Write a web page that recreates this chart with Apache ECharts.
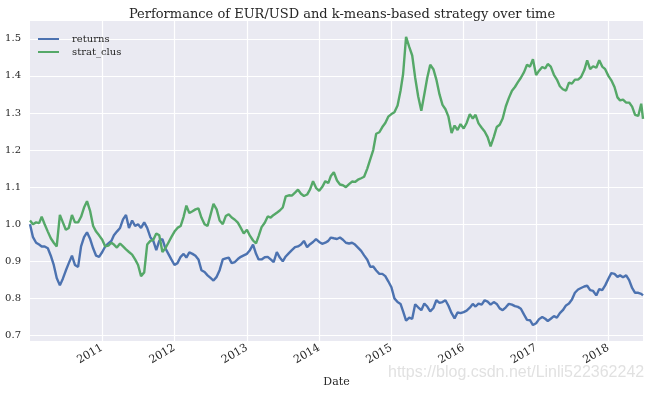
<!DOCTYPE html>
<html>
<head>
<meta charset="utf-8">
<script src="https://cdn.jsdelivr.net/npm/echarts@6/dist/echarts.min.js"></script>
<style>
html,body{margin:0;padding:0;background:#ffffff;}
#chart{width:649px;height:393px;}
</style>
</head>
<body>
<div id="chart"></div>
<script>
// Semi-monthly sample dates (1st and 16th of each month), Jan 2010 - Jun 2018
const dates = [];
for (let k = 0; k < 205; k++) {
  const y = 2010 + Math.floor(k / 24);
  const m = Math.floor((k % 24) / 2);
  const d = (k % 2) ? 16 : 1;
  dates.push(Date.UTC(y, m, d));
}
dates[204] = Date.UTC(2018, 5, 25);

// returns (EUR/USD normalized)
const returns = [
  1.0, 0.965, 0.95, 0.945, 0.94, 0.94, 0.935, 0.915, 0.89, 0.855,
  0.835, 0.853, 0.875, 0.895, 0.915, 0.89, 0.885, 0.94, 0.965, 0.978,
  0.96, 0.935, 0.915, 0.912, 0.925, 0.94, 0.948, 0.955, 0.97, 0.98,
  0.99, 1.013, 1.025, 0.99, 1.01, 0.995, 1.0, 0.99, 1.005, 0.99,
  0.965, 0.955, 0.93, 0.955, 0.96, 0.935, 0.92, 0.905, 0.89, 0.895,
  0.912, 0.92, 0.91, 0.924, 0.92, 0.915, 0.905, 0.876, 0.871, 0.862,
  0.855, 0.848, 0.858, 0.876, 0.905, 0.908, 0.91, 0.895, 0.898, 0.906,
  0.912, 0.916, 0.92, 0.93, 0.945, 0.92, 0.905, 0.905, 0.911, 0.912,
  0.905, 0.898, 0.925, 0.91, 0.9, 0.913, 0.922, 0.93, 0.938, 0.94,
  0.945, 0.955, 0.938, 0.946, 0.952, 0.96, 0.952, 0.947, 0.95, 0.955,
  0.964, 0.962, 0.96, 0.964, 0.958, 0.95, 0.948, 0.95, 0.945, 0.937,
  0.928, 0.916, 0.904, 0.885, 0.886, 0.875, 0.866, 0.866, 0.86, 0.846,
  0.83, 0.8, 0.79, 0.785, 0.765, 0.74, 0.748, 0.745, 0.784, 0.776,
  0.768, 0.786, 0.778, 0.765, 0.774, 0.795, 0.788, 0.79, 0.795, 0.78,
  0.76, 0.746, 0.762, 0.76, 0.763, 0.767, 0.775, 0.785, 0.778, 0.786,
  0.783, 0.795, 0.791, 0.783, 0.79, 0.785, 0.773, 0.768, 0.776, 0.785,
  0.783, 0.779, 0.777, 0.772, 0.756, 0.742, 0.741, 0.728, 0.733, 0.744,
  0.75, 0.745, 0.739, 0.745, 0.752, 0.748, 0.76, 0.768, 0.781, 0.786,
  0.797, 0.815, 0.824, 0.828, 0.832, 0.834, 0.822, 0.82, 0.808, 0.825,
  0.822, 0.835, 0.853, 0.868, 0.866, 0.858, 0.862, 0.857, 0.862, 0.849,
  0.828, 0.815, 0.815, 0.812, 0.808
];

// strat_clus (k-means-based strategy)
const stratClus = [
  1.01, 1.0, 1.005, 1.003, 1.02, 1.0, 0.98, 0.962, 0.95, 0.94,
  1.025, 1.005, 0.985, 0.99, 1.025, 1.005, 1.005, 1.02, 1.045, 1.062,
  1.035, 0.995, 0.98, 0.97, 0.958, 0.94, 0.942, 0.95, 0.945, 0.937,
  0.948, 0.94, 0.932, 0.925, 0.918, 0.905, 0.89, 0.86, 0.87, 0.945,
  0.955, 0.958, 0.975, 0.97, 0.925, 0.935, 0.95, 0.965, 0.98, 0.99,
  0.995, 1.02, 1.05, 1.03, 1.035, 1.04, 1.043, 1.018, 1.0, 0.995,
  1.025, 1.055, 1.04, 1.01, 1.0, 1.022, 1.027, 1.018, 1.012, 1.004,
  0.99, 0.975, 0.985, 0.969, 0.956, 0.948, 0.968, 0.992, 1.004, 1.021,
  1.018, 1.025, 1.031, 1.037, 1.045, 1.075, 1.078, 1.077, 1.085, 1.093,
  1.082, 1.076, 1.08, 1.094, 1.116, 1.098, 1.09, 1.1, 1.116, 1.111,
  1.13, 1.14, 1.118, 1.107, 1.105, 1.1, 1.108, 1.115, 1.114, 1.12,
  1.124, 1.128, 1.15, 1.175, 1.2, 1.244, 1.248, 1.262, 1.273, 1.29,
  1.297, 1.302, 1.32, 1.36, 1.405, 1.505, 1.478, 1.455, 1.395, 1.345,
  1.306, 1.35, 1.395, 1.43, 1.418, 1.39, 1.35, 1.322, 1.31, 1.29,
  1.246, 1.266, 1.254, 1.27, 1.258, 1.273, 1.297, 1.285, 1.295, 1.272,
  1.26, 1.25, 1.235, 1.21, 1.235, 1.262, 1.268, 1.285, 1.318, 1.34,
  1.36, 1.37, 1.383, 1.395, 1.41, 1.43, 1.425, 1.445, 1.402, 1.414,
  1.424, 1.42, 1.432, 1.425, 1.403, 1.39, 1.372, 1.364, 1.36, 1.382,
  1.379, 1.39, 1.39, 1.397, 1.415, 1.442, 1.418, 1.426, 1.422, 1.442,
  1.425, 1.418, 1.4, 1.388, 1.37, 1.342, 1.334, 1.336, 1.328, 1.328,
  1.317, 1.295, 1.292, 1.325, 1.284
];

const yTicks = [0.7, 0.8, 0.9, 1.0, 1.1, 1.2, 1.3, 1.4, 1.5];
const yearTicks = [2011, 2012, 2013, 2014, 2015, 2016, 2017, 2018];
const xTickValues = yearTicks.map(function (y) { return Date.UTC(y, 0, 1); });

const serif = 'DejaVu Serif';
const textColor = '#262626';

const chart = echarts.init(document.getElementById('chart'), null, {renderer: 'canvas'});
const option = {
  backgroundColor: '#ffffff',
  animation: false,
  title: {
    text: 'Performance of EUR/USD and k-means-based strategy over time',
    left: 337,
    top: 3,
    textAlign: 'center',
    textStyle: {fontFamily: serif, fontSize: 13, fontWeight: 'normal', color: textColor}
  },
  legend: {
    orient: 'vertical',
    left: 33,
    top: 29,
    icon: 'rect',
    itemWidth: 21,
    itemHeight: 2,
    itemGap: 3,
    textStyle: {fontFamily: serif, fontSize: 10, color: textColor, padding: [0, 0, 0, 8]},
    data: ['returns', 'strat_clus']
  },
  grid: {
    left: 30, right: 6, top: 21, bottom: 48,
    show: true, backgroundColor: '#EAEAF2', borderWidth: 0
  },
  xAxis: {
    type: 'value',
    min: dates[0],
    max: dates[dates.length - 1],
    name: 'Date',
    nameLocation: 'middle',
    nameGap: 36,
    nameTextStyle: {fontFamily: serif, fontSize: 11, color: textColor},
    axisLine: {show: false},
    axisTick: {show: false, customValues: xTickValues},
    axisLabel: {
      customValues: xTickValues,
      rotate: 30,
      margin: 6,
      fontFamily: serif,
      fontSize: 11,
      color: textColor,
      formatter: function (v) { return String(new Date(v).getUTCFullYear()); }
    },
    splitLine: {show: true, lineStyle: {color: '#ffffff', width: 1.2}}
  },
  yAxis: {
    type: 'value',
    min: 0.685,
    max: 1.548,
    axisLine: {show: false},
    axisTick: {show: false, customValues: yTicks},
    axisLabel: {
      customValues: yTicks,
      margin: 9,
      fontFamily: serif,
      fontSize: 10,
      color: textColor,
      formatter: function (v) { return v.toFixed(1); }
    },
    splitLine: {show: true, lineStyle: {color: '#ffffff', width: 1.2}}
  },
  series: [
    {
      name: 'returns',
      type: 'line',
      showSymbol: false,
      symbol: 'none',
      color: '#4C72B0',
      lineStyle: {width: 2.4, color: '#4C72B0'},
      data: dates.map(function (d, i) { return [d, returns[i]]; })
    },
    {
      name: 'strat_clus',
      type: 'line',
      showSymbol: false,
      symbol: 'none',
      color: '#55A868',
      lineStyle: {width: 2.4, color: '#55A868'},
      data: dates.map(function (d, i) { return [d, stratClus[i]]; })
    }
  ],
  graphic: [{
    type: 'text',
    left: 388,
    top: 365,
    z: 100,
    style: {
      text: 'https://blog.csdn.net/Linli522362242',
      font: '16px "Liberation Sans"',
      fill: 'rgba(215,215,215,0.75)'
    }
  }]
};
chart.setOption(option);
</script>
</body>
</html>
